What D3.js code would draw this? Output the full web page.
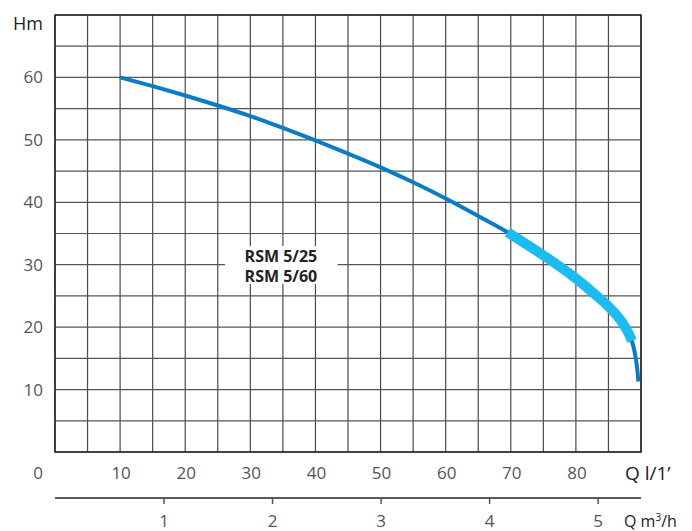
<!DOCTYPE html>
<html>
<head>
<meta charset="utf-8">
<script src="https://cdn.jsdelivr.net/npm/d3@7"></script>
<style>
  body { margin: 0; background: #fff; }
  text { font-family: "Open Sans", "Noto Sans", sans-serif; }
</style>
</head>
<body>
<svg id="chart" width="692" height="531"></svg>
<script>
// pump curve, flow in l/min, head in m
const flow = [10, 15, 20, 25, 30, 35, 40, 45, 50, 55, 60, 65, 69.5, 75, 80, 83, 85, 87, 88, 88.6, 89.1, 89.4, 89.6];
const head = [60, 58.6, 57.1, 55.5, 53.8, 51.9, 49.9, 47.8, 45.6, 43.2, 40.6, 37.8, 35.2, 31.5, 27.8, 25.2, 23.3, 20.9, 19.2, 17.8, 15.6, 13.5, 11.3];
// thick (working range) part of the curve: indices
const thickFrom = 12, thickTo = 19;

const xTicks = [10, 20, 30, 40, 50, 60, 70, 80];
const yTicks = [10, 20, 30, 40, 50, 60];
const m3Ticks = [1, 2, 3, 4, 5];
const modelLabels = ["RSM 5/25", "RSM 5/60"];

const svg = d3.select("#chart");
const x = d3.scaleLinear().domain([0, 90]).range([55, 641]);
const y = d3.scaleLinear().domain([0, 70]).range([452, 15]);
const xm3 = d3.scaleLinear().domain([0, 5.4]).range([55, 641]);

// grid
const grid = svg.append("g");
grid.selectAll(".vg")
  .data(d3.range(0, 91, 5))
  .enter().append("line")
  .attr("x1", d => x(d)).attr("x2", d => x(d))
  .attr("y1", y(0)).attr("y2", y(70))
  .style("stroke", "#4a4a4a").style("stroke-width", 1.2);
grid.selectAll(".hg")
  .data(d3.range(0, 71, 5))
  .enter().append("line")
  .attr("x1", x(0)).attr("x2", x(90))
  .attr("y1", d => y(d)).attr("y2", d => y(d))
  .style("stroke", "#555").style("stroke-width", 1.2);
svg.append("rect")
  .attr("x", x(0)).attr("y", y(70))
  .attr("width", x(90) - x(0)).attr("height", y(0) - y(70))
  .style("fill", "none").style("stroke", "#222").style("stroke-width", 1.5);

// model label with white box
svg.append("rect")
  .attr("x", x(26.1)).attr("y", y(33))
  .attr("width", x(43.4) - x(26.1)).attr("height", y(26.9) - y(33))
  .style("fill", "#fff");
svg.selectAll(".model")
  .data(modelLabels)
  .enter().append("text")
  .attr("x", x(34.7))
  .attr("y", (d, i) => 262 + i * 20)
  .attr("text-anchor", "middle")
  .style("font-size", "16px").style("font-weight", "bold").style("fill", "#222")
  .text(d => d);

// curve
const pts = flow.map((f, i) => [f, head[i]]);
const line = d3.line().x(d => x(d[0])).y(d => y(d[1])).curve(d3.curveMonotoneX);
svg.append("path")
  .attr("d", line(pts))
  .style("fill", "none").style("stroke", "#0a7cc6").style("stroke-width", 4);
svg.append("path")
  .attr("d", line(pts.slice(thickFrom, thickTo + 1)))
  .style("fill", "none").style("stroke", "#1bbdf0").style("stroke-width", 10);

// y labels
svg.selectAll(".yl")
  .data(yTicks)
  .enter().append("text")
  .attr("x", 43).attr("y", d => y(d) + 6)
  .attr("text-anchor", "end")
  .style("font-size", "17px").style("fill", "#555")
  .text(d => d);
svg.append("text")
  .attr("x", 43).attr("y", 30)
  .attr("text-anchor", "end")
  .style("font-size", "18px").style("fill", "#222")
  .text("Hm");

// x labels (l/min)
svg.append("text")
  .attr("x", 43).attr("y", 479)
  .attr("text-anchor", "end")
  .style("font-size", "17px").style("fill", "#555")
  .text("0");
svg.selectAll(".xl")
  .data(xTicks)
  .enter().append("text")
  .attr("x", d => x(d) + 1).attr("y", 479)
  .attr("text-anchor", "middle")
  .style("font-size", "17px").style("fill", "#555")
  .text(d => d);
svg.append("text")
  .attr("x", 625).attr("y", 480)
  .style("font-size", "19px").style("fill", "#222")
  .text("Q l/1’");

// second axis m3/h
const ax2 = d3.axisBottom(xm3).tickValues(m3Ticks).tickSize(6).tickFormat(d3.format("d"));
const g2 = svg.append("g").attr("transform", "translate(0,498)").call(ax2);
g2.select(".domain").attr("d", `M${x(0)},0H${x(90)}`).style("stroke", "#222").style("stroke-width", 1.5);
g2.selectAll(".tick line").style("stroke", "#555").style("stroke-width", 1.5);
g2.selectAll(".tick text")
  .attr("y", 17)
  .style("font-family", "\"Open Sans\", sans-serif")
  .style("font-size", "17px").style("fill", "#555");
const qm = svg.append("text")
  .attr("x", 624).attr("y", 527)
  .style("font-size", "16px").style("fill", "#222");
qm.append("tspan").text("Q m");
qm.append("tspan").attr("dy", -6).style("font-size", "10px").text("3");
qm.append("tspan").attr("dy", 6).text("/h");
</script>
</body>
</html>
